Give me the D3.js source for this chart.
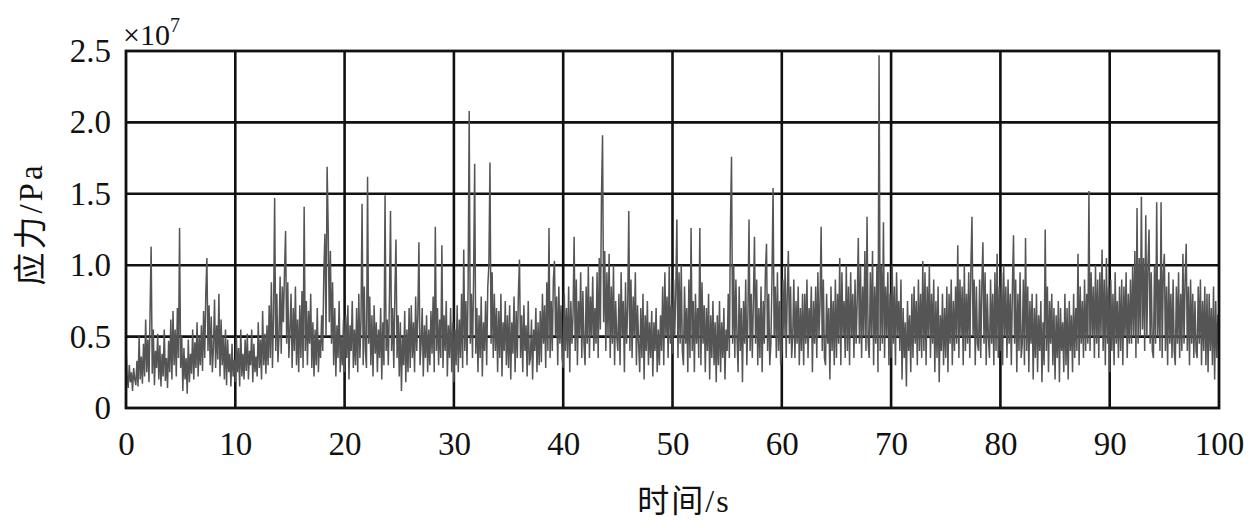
<!DOCTYPE html>
<html>
<head>
  <meta charset="UTF-8">
  <script src="https://d3js.org/d3.v7.min.js"></script>
</head>
<body style="margin:0">

<svg width="1260" height="528"></svg>

<script>
  // sample step of the record, seconds
  const dt = 0.1;

  // stress, in units of 1e5 Pa (so 100 = 1.0 x 10^7 Pa), one row per second
  const stress = [
    45,22,14,30,18,25,12,28,20,16,
    33,15,50,20,36,17,45,22,62,25,
    48,18,66,113,24,55,16,40,28,52,
    20,44,15,38,22,55,19,35,14,47,
    25,62,20,68,30,55,22,70,35,126,
    28,50,12,42,20,35,10,48,18,38,
    24,55,20,46,28,60,22,50,30,58,
    26,68,35,80,105,40,72,30,64,25,
    42,76,28,58,34,80,22,62,30,50,
    20,55,16,48,25,38,15,45,22,34,
    18,50,25,42,15,55,22,38,20,48,
    26,52,20,40,30,55,18,45,25,36,
    22,60,28,48,20,68,30,52,24,58,
    30,72,35,88,28,65,147,40,80,32,
    50,92,38,85,60,95,124,45,88,35,
    55,80,28,70,40,85,30,62,25,72,
    35,82,28,141,40,75,30,68,45,80,
    28,60,22,55,30,70,25,48,35,65,
    40,95,122,50,169,125,60,110,45,88,
    30,70,22,58,35,75,25,50,30,62,
    25,65,35,72,20,58,40,75,28,55,
    30,70,25,80,35,62,143,30,85,40,
    28,162,45,78,30,65,22,72,38,60,
    25,55,35,70,20,60,30,149,40,62,
    30,75,138,40,70,28,80,118,35,65,
    22,60,12,50,30,68,18,55,25,70,
    28,72,35,60,25,78,40,65,116,30,
    45,70,22,58,35,65,25,55,30,68,
    38,78,25,127,40,70,30,62,35,114,
    28,65,40,75,22,58,35,70,25,60,
    18,55,30,72,25,62,35,80,28,111,
    40,75,30,85,208,45,80,35,90,171,
    38,70,25,65,35,78,22,60,40,75,
    30,85,100,172,45,95,35,80,40,70,
    25,68,35,80,22,60,40,75,30,65,
    28,72,20,60,38,78,25,68,35,80,
    104,35,65,25,72,40,58,22,75,30,
    35,62,20,55,40,70,25,60,30,68,
    32,80,45,72,28,88,40,126,35,75,
    40,90,103,50,78,30,85,45,72,35,
    28,80,40,70,35,85,25,75,45,65,
    120,40,90,30,75,50,95,35,82,45,
    30,85,45,100,35,78,50,92,40,70,
    45,95,35,105,55,147,191,60,110,40,
    95,50,108,35,85,45,100,30,75,50,
    40,80,30,95,50,75,25,88,45,70,
    138,40,90,35,78,50,95,30,72,45,
    25,70,35,80,20,65,40,75,30,60,
    35,68,22,60,40,70,25,55,30,65,
    40,85,30,95,50,78,35,100,45,72,
    38,90,50,80,132,35,95,45,100,40,
    30,85,45,70,25,90,35,126,40,75,
    25,80,45,70,35,126,30,88,45,72,
    25,70,40,80,20,65,35,75,30,60,
    18,65,30,75,25,60,35,70,20,55,
    40,80,35,128,176,45,100,35,90,50,
    25,85,40,70,18,75,45,90,30,65,
    132,40,80,35,75,120,45,90,30,70,
    35,85,25,75,45,95,115,40,80,30,
    45,90,154,50,85,35,95,40,75,30,
    40,90,50,100,35,80,110,45,85,35,
    50,90,35,75,45,85,30,70,40,80,
    30,80,45,90,35,70,50,85,25,75,
    45,85,35,95,50,75,127,40,90,35,
    30,80,45,70,20,85,40,75,30,90,
    35,80,45,105,30,95,50,75,35,100,
    40,85,30,95,50,80,35,90,45,75,
    119,45,100,35,85,50,110,40,134,45,
    35,95,50,110,30,85,45,100,25,247,
    40,100,45,130,35,85,50,95,30,80,
    35,100,45,85,30,95,50,75,40,90,
    20,70,35,60,15,75,40,65,25,80,
    35,85,45,75,30,90,40,80,35,103,
    40,95,30,85,50,100,35,80,45,90,
    25,75,35,85,18,65,40,80,30,70,
    35,85,25,80,45,90,30,75,40,85,
    45,114,35,90,50,85,30,100,40,80,
    45,95,35,100,134,50,90,30,85,45,
    40,90,35,85,116,45,95,30,80,50,
    35,90,45,80,30,95,40,108,35,85,
    40,95,30,100,50,85,35,90,45,80,
    30,85,121,45,90,25,80,40,95,35,
    45,90,30,119,40,85,25,75,45,80,
    20,70,35,80,25,65,40,75,18,60,
    30,125,40,85,25,75,45,80,30,70,
    20,65,35,75,18,70,40,60,25,80,
    30,70,20,75,40,65,25,80,35,70,
    40,108,30,85,45,75,35,90,40,80,
    45,152,40,95,50,85,35,100,45,90,
    35,95,50,111,40,90,30,105,45,85,
    25,90,40,80,30,95,45,75,35,85,
    40,90,30,85,50,95,35,80,45,90,
    45,100,50,110,35,140,45,105,50,148,
    55,105,40,135,50,100,125,45,95,40,
    35,100,45,144,50,90,40,144,35,95,
    108,40,85,30,95,45,80,35,90,40,
    30,85,45,95,35,80,40,108,45,90,
    115,40,85,30,90,45,80,35,75,40,
    35,85,45,90,30,75,40,85,30,80,
    25,80,40,70,30,85,20,75,35,65,
    65
  ];

  // axis ticks
  const xTicks = [0, 10, 20, 30, 40, 50, 60, 70, 80, 90, 100];
  const yTicks = [0, 50, 100, 150, 200, 250];
  const yTickLabels = ['0', '0.5', '1.0', '1.5', '2.0', '2.5'];

  const plotLeft = 126, plotRight = 1219, plotTop = 51, plotBottom = 408;

  // touch the fonts once so they are resolved before drawing
  const ctx = document.createElement('canvas').getContext('2d');
  ['"Liberation Serif"', '"Noto Sans CJK SC"'].forEach(f => {
    ctx.font = `33px ${f}`;
    ctx.measureText('0.5 应力/Pa ×10');
  });

  const x = d3.scaleLinear().domain([0, 100]).range([plotLeft, plotRight]);
  const y = d3.scaleLinear().domain([0, 250]).range([plotBottom, plotTop]);

  const svg = d3.select('svg');

  // grid
  const grid = svg.append('g')
    .attr('stroke', '#111')
    .attr('stroke-width', 2.6);

  grid.selectAll('.vgrid')
    .data(xTicks.slice(1, -1))
    .enter().append('line')
    .attr('x1', d => x(d)).attr('x2', d => x(d))
    .attr('y1', plotTop).attr('y2', plotBottom);

  grid.selectAll('.hgrid')
    .data(yTicks.slice(1, -1))
    .enter().append('line')
    .attr('x1', plotLeft).attr('x2', plotRight)
    .attr('y1', d => y(d)).attr('y2', d => y(d));

  // signal
  const line = d3.line()
    .x((d, i) => x(i * dt))
    .y(d => y(d));

  svg.append('path')
    .datum(stress)
    .attr('d', line)
    .attr('fill', 'none')
    .attr('stroke', '#555')
    .attr('stroke-width', 1.5)
    .attr('stroke-linejoin', 'miter');

  // frame
  svg.append('rect')
    .attr('x', plotLeft).attr('y', plotTop)
    .attr('width', plotRight - plotLeft).attr('height', plotBottom - plotTop)
    .attr('fill', 'none')
    .attr('stroke', '#111')
    .attr('stroke-width', 2.8);

  // axes (labels only, the frame draws the lines)
  const xAxis = svg.append('g')
    .attr('transform', `translate(0,${plotBottom})`)
    .call(d3.axisBottom(x).tickValues(xTicks).tickSize(0).tickPadding(24));

  const yAxis = svg.append('g')
    .attr('transform', `translate(${plotLeft},0)`)
    .call(d3.axisLeft(y).tickValues(yTicks).tickSize(0).tickPadding(15)
      .tickFormat((d, i) => yTickLabels[i]));

  [xAxis, yAxis].forEach(a => {
    a.select('.domain').remove();
    a.selectAll('text')
      .attr('fill', '#111')
      .style('font-family', '"Liberation Serif"')
      .style('font-size', '33px');
  });

  // exponent
  const expo = svg.append('text')
    .attr('x', 123).attr('y', 45)
    .attr('fill', '#111')
    .style('font-family', '"Liberation Serif"')
    .style('font-size', '30px');
  expo.append('tspan').text('×10');
  expo.append('tspan')
    .attr('dy', -13)
    .style('font-size', '20px')
    .text('7');

  // axis titles
  svg.append('text')
    .attr('transform', 'translate(42,224) rotate(-90)')
    .attr('text-anchor', 'middle')
    .attr('fill', '#111')
    .style('font-family', '"Liberation Serif", "Noto Sans CJK SC"')
    .style('font-size', '33px')
    .style('letter-spacing', '3px')
    .text('应力/Pa');

  svg.append('text')
    .attr('x', 684).attr('y', 512)
    .attr('text-anchor', 'middle')
    .attr('fill', '#111')
    .style('font-family', '"Liberation Serif", "Noto Sans CJK SC"')
    .style('font-size', '32px')
    .style('letter-spacing', '2px')
    .text('时间/s');
</script>

</body>
</html>
